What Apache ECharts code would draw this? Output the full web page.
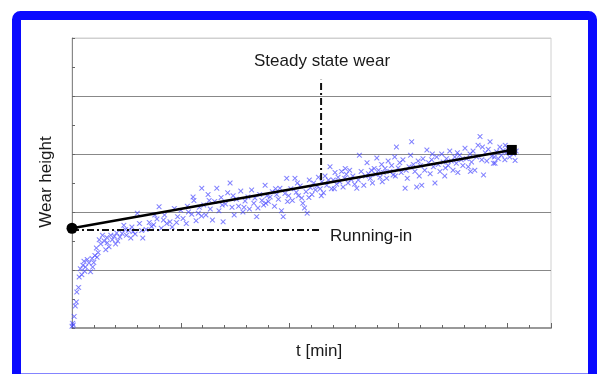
<!DOCTYPE html>
<html>
<head>
<meta charset="utf-8">
<title>Wear height</title>
<script src="https://cdn.jsdelivr.net/npm/echarts@6/dist/echarts.min.js"></script>
<style>
  html, body { margin: 0; padding: 0; background: #fff; }
  #chart { width: 600px; height: 374px; }
</style>
</head>
<body>
<div id="chart"></div>
<script>
// measured wear points [t, height]
var runningIn = [
  [0, 0.03], [0.03, 0.08], [0.06, 0.05], [0.1, 0.2], [0.15, 0.38], [0.2, 0.45], [0.22, 0.62],
  [0.3, 0.7], [0.33, 0.88], [0.38, 1.02], [0.45, 0.92], [0.5, 1.08], [0.58, 0.98], [0.62, 1.05],
  [0.7, 1.18], [0.78, 1.12], [0.85, 0.97], [0.92, 1.2], [1.0, 1.13], [1.05, 1.25], [1.12, 1.38],
  [1.2, 1.3], [1.25, 1.52], [1.32, 1.45], [1.4, 1.6], [1.48, 1.5], [1.55, 1.35], [1.62, 1.47],
  [1.7, 1.4], [1.78, 1.6], [1.85, 1.52], [1.95, 1.58], [2.05, 1.64], [2.1, 1.5], [2.2, 1.57],
  [2.3, 1.63], [2.38, 1.77], [2.5, 1.6], [2.6, 1.68], [2.7, 1.55], [2.8, 1.66], [2.9, 1.62],
  [0.55, 1.15], [0.95, 1.05], [1.15, 1.22], [1.6, 1.56], [2.0, 1.45], [2.45, 1.7], [2.75, 1.74]
]
var earlySteady = [
  [3.0, 1.98], [3.1, 1.8], [3.25, 1.55], [3.4, 1.7], [3.55, 1.82], [3.65, 1.75], [3.8, 1.95],
  [3.9, 1.88], [4.0, 2.09], [4.1, 1.72], [4.2, 1.86], [4.35, 1.8], [4.5, 1.83], [4.6, 1.74],
  [4.7, 2.06], [4.85, 1.92], [5.0, 2.03], [5.1, 1.89], [5.25, 1.8], [5.35, 2.0], [5.5, 1.96],
  [5.56, 2.26], [5.6, 2.2], [5.7, 1.85], [5.85, 2.08], [5.96, 2.41], [5.95, 1.93],
  [6.05, 2.12], [6.15, 1.95], [6.25, 2.3], [6.35, 2.05], [6.45, 1.86], [6.55, 2.18], [6.65, 2.41],
  [6.75, 2.02], [6.85, 2.25], [6.94, 1.83], [7.05, 2.14], [7.15, 2.33], [7.26, 2.5], [7.35, 2.08],
  [7.45, 1.95], [7.55, 2.22], [7.65, 2.1], [7.75, 2.36], [7.85, 2.0], [7.95, 2.19],
  [8.08, 2.26], [8.15, 2.05], [8.25, 2.38], [8.35, 2.15], [8.48, 1.92], [8.54, 2.07], [8.62, 2.3],
  [8.72, 2.2], [8.8, 2.12], [8.87, 2.46], [8.95, 2.28], [9.02, 2.18], [9.1, 2.26], [9.2, 2.35],
  [9.3, 2.1], [9.4, 2.3], [9.48, 2.22], [9.55, 2.41], [9.62, 2.02], [9.7, 1.92], [9.78, 2.32],
  [9.86, 2.58], [9.95, 2.28],
  [3.2, 1.68], [3.75, 1.78], [4.25, 1.95], [4.8, 1.82], [5.3, 2.1], [5.8, 1.98], [6.3, 2.2],
  [6.9, 2.12], [7.4, 2.28], [7.9, 2.08], [8.4, 2.24], [8.9, 2.15], [9.35, 2.4], [9.9, 2.18]
]
var lateSteady = [
  [10.05, 2.4], [10.12, 2.2], [10.24, 2.58], [10.3, 2.34], [10.4, 2.28], [10.48, 2.45], [10.55, 2.24],
  [10.6, 2.15], [10.68, 2.07], [10.75, 2.35], [10.8, 1.98], [10.88, 2.25], [10.95, 2.42], [11.02, 2.3],
  [11.1, 2.5], [11.18, 2.38], [11.25, 2.45], [11.32, 2.6], [11.4, 2.4], [11.48, 2.52], [11.55, 2.33],
  [11.62, 2.62], [11.7, 2.46], [11.78, 2.55], [11.85, 2.78], [11.92, 2.4],
  [12.0, 2.55], [12.08, 2.68], [12.15, 2.48], [12.22, 2.6], [12.3, 2.52], [12.38, 2.7], [12.45, 2.43],
  [12.52, 2.58], [12.6, 2.65], [12.68, 2.5], [12.75, 2.72], [12.82, 2.56], [12.9, 2.62], [12.98, 2.48],
  [13.08, 2.41], [13.2, 2.98], [13.28, 2.7], [13.4, 2.46], [13.48, 2.62], [13.55, 2.85], [13.62, 2.66],
  [13.7, 2.58], [13.8, 2.5], [13.88, 2.75], [13.95, 2.65],
  [14.0, 2.93], [14.08, 2.72], [14.15, 2.6], [14.22, 2.82], [14.3, 2.68], [14.38, 2.75], [14.45, 2.58],
  [14.52, 2.88], [14.6, 2.7], [14.68, 2.8], [14.75, 2.64], [14.82, 2.95], [14.9, 3.12], [14.98, 2.76],
  [15.05, 2.85], [15.12, 2.68], [15.2, 2.9], [15.3, 2.41], [15.4, 2.58], [15.48, 2.78], [15.55, 2.98],
  [15.6, 3.21], [15.68, 2.82], [15.75, 2.7], [15.83, 2.43], [15.9, 2.88],
  [16.0, 2.8], [16.06, 2.46], [16.12, 2.92], [16.2, 2.72], [16.3, 3.07], [16.38, 2.85], [16.45, 2.66],
  [16.52, 2.9], [16.6, 2.78], [16.67, 2.5], [16.75, 2.95], [16.82, 2.82], [16.9, 2.7], [16.98, 3.0],
  [17.05, 2.86], [17.12, 2.62], [17.2, 2.92], [17.28, 2.8], [17.35, 3.05], [17.42, 2.88], [17.5, 2.72],
  [17.58, 2.95], [17.65, 2.84], [17.72, 2.68], [17.8, 2.98], [17.88, 2.9],
  [17.95, 2.8], [18.05, 3.1], [18.12, 2.92], [18.2, 2.78], [18.28, 3.0], [18.35, 2.86], [18.42, 3.05],
  [18.5, 2.72], [18.58, 2.95], [18.65, 3.15], [18.74, 3.3], [18.82, 2.9], [18.9, 2.64], [18.98, 3.02],
  [19.05, 2.88], [19.12, 3.08], [19.2, 3.21], [19.28, 2.96], [19.36, 2.84], [19.43, 2.84], [19.5, 3.04],
  [19.58, 2.92], [19.65, 3.12], [19.72, 2.98], [19.8, 3.06], [19.88, 2.9], [19.95, 3.02], [20.02, 3.1],
  [20.1, 2.95], [20.2, 3.1], [20.28, 3.0], [20.35, 2.89], [20.4, 3.05],
  [10.35, 2.5], [10.9, 2.55], [11.45, 2.28], [12.05, 2.4], [12.55, 2.75], [13.15, 2.55], [13.75, 2.72],
  [14.25, 2.52], [14.85, 2.62], [15.35, 2.72], [15.95, 2.62], [16.55, 3.0], [17.15, 2.76], [17.7, 3.02],
  [18.3, 2.7], [18.85, 3.12], [19.4, 2.95], [19.9, 3.15]
]
// fitted wear line, start and end
var wearLine = [[0, 1.72], [20.2, 3.07]]
// guide lines
var runningInGuide = [[0, 1.69], [11.42, 1.69]]
var steadyGuide = [[11.44, 2.55], [11.44, 4.28]]

var xMax = 22
var yMax = 5
// grid line colours for y = 0..5 (top edge is pale)
var gridColors = ['#999', '#888', '#888', '#888', '#888', '#d0d0d0']

var crossPath = 'path://M0,1L1,0L5,4L9,0L10,1L6,5L10,9L9,10L5,6L1,10L0,9L4,5Z'
var dashDot = [7, 3, 2, 3]
var font = '"Liberation Sans", Arial, sans-serif'

var chart = echarts.init(document.getElementById('chart'))

var options = {
  animation: false,
  grid: {
    left: 72, right: 49, top: 38, bottom: 46,
    show: true, borderColor: '#d0d0d0', borderWidth: 1
  },
  xAxis: [
    {
      type: 'value', min: 0, max: xMax, interval: 1,
      axisLine: { show: true, lineStyle: { color: '#999', width: 2 } },
      axisTick: { show: true, inside: true, length: 3, lineStyle: { color: '#666' } },
      axisLabel: { show: false },
      splitLine: { show: false }
    },
    {
      type: 'value', min: 0, max: xMax, interval: 5, position: 'bottom',
      axisLine: { show: false },
      axisTick: { show: true, inside: true, length: 5, lineStyle: { color: '#666' } },
      axisLabel: { show: false },
      splitLine: { show: false }
    }
  ],
  yAxis: {
    type: 'value', min: 0, max: yMax, interval: 1,
    axisLine: { show: true, lineStyle: { color: '#888', width: 1 } },
    axisTick: { show: true, inside: true, length: 3, lineStyle: { color: '#666' } },
    minorTick: { show: true, splitNumber: 2, length: 3, lineStyle: { color: '#666' } },
    axisLabel: { show: false },
    splitLine: { show: true, lineStyle: { color: gridColors, width: 1 } }
  },
  graphic: [
    {
      type: 'rect', silent: true, z: 100,
      shape: { x: 16.5, y: 15.5, width: 576, height: 362.5, r: 4 },
      style: { fill: 'none', stroke: '#0a0aff', lineWidth: 9 }
    },
    {
      type: 'text', left: 254, top: 53,
      style: { text: 'Steady state wear', font: '17px ' + font, fill: '#1a1a1a' }
    },
    {
      type: 'text', left: 330, top: 228,
      style: { text: 'Running-in', font: '17px ' + font, fill: '#1a1a1a' }
    },
    {
      type: 'text', left: 296, top: 343,
      style: { text: 't [min]', font: '17px ' + font, fill: '#1a1a1a' }
    },
    {
      type: 'text', x: 46, y: 182, rotation: Math.PI / 2,
      style: {
        text: 'Wear height', font: '17px ' + font, fill: '#1a1a1a',
        align: 'center', verticalAlign: 'middle'
      }
    }
  ],
  series: [
    {
      name: 'measured',
      type: 'scatter',
      symbol: crossPath,
      symbolSize: 5,
      itemStyle: { color: 'rgba(30,30,255,0.8)', borderColor: 'rgba(120,120,255,0.35)', borderWidth: 1 },
      data: runningIn.concat(earlySteady, lateSteady),
      z: 2
    },
    {
      name: 'running-in guide',
      type: 'line',
      symbol: 'none',
      lineStyle: { color: '#111', width: 2, type: dashDot },
      data: runningInGuide,
      z: 3
    },
    {
      name: 'steady guide',
      type: 'line',
      symbol: 'none',
      lineStyle: { color: '#111', width: 2, type: dashDot },
      data: steadyGuide,
      z: 3
    },
    {
      name: 'wear line',
      type: 'line',
      lineStyle: { color: '#000', width: 2.5 },
      itemStyle: { color: '#000' },
      data: [
        { value: wearLine[0], symbol: 'circle', symbolSize: 11 },
        { value: wearLine[1], symbol: 'rect', symbolSize: 10 }
      ],
      z: 4
    }
  ]
}

chart.setOption(options)
</script>
</body>
</html>
